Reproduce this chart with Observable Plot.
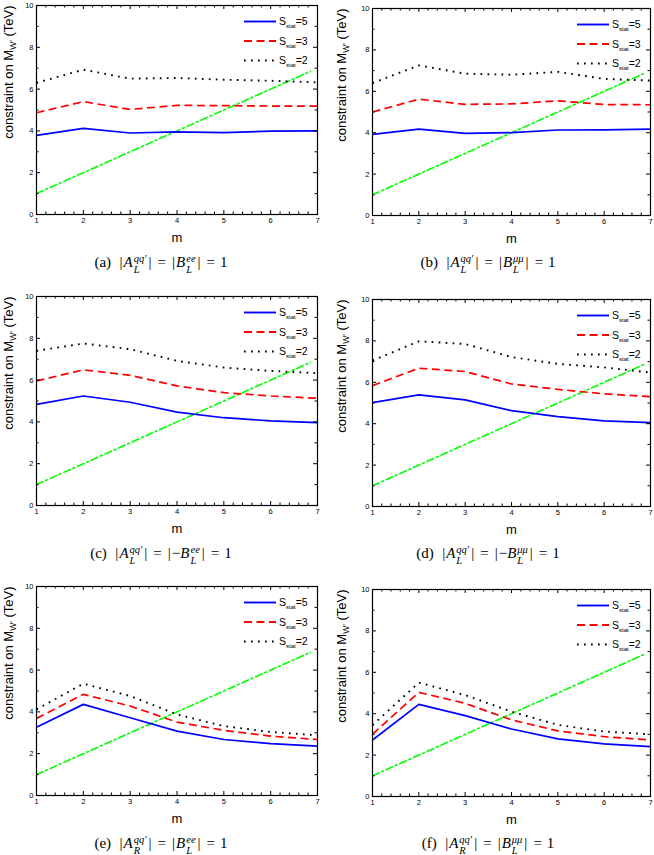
<!DOCTYPE html>
<html><head><meta charset="utf-8">
<script src="https://cdn.jsdelivr.net/npm/d3@7"></script>
<script src="https://cdn.jsdelivr.net/npm/@observablehq/plot@0.6"></script>
<style>
body{margin:0;background:#fff;width:654px;height:855px;overflow:hidden}
#grid{position:relative;width:654px;height:855px}
.cell{position:absolute;width:327px;height:290px}
.cap{position:absolute;left:0;width:322px;height:24px;line-height:24px;text-align:center;font-family:"Liberation Serif","DejaVu Serif",serif;font-size:15px;color:#000;white-space:nowrap}
.ss{display:inline-block;vertical-align:-0.6em;line-height:1.05;font-size:0.7em;font-style:italic;text-align:left;margin-left:1px;margin-right:1px}
.ss span{display:block}
.eq{margin:0 5px}
.bar{margin:0 1px}
svg{overflow:visible}
</style></head><body><div id="grid"></div>
<script>
// ---- data ----
const M = [1, 2, 3, 4, 5, 6, 7];
const GREEN_M = [1, 6.85];
const GREEN_V = [1, 6.85];
const A5 = [3.79, 4.12, 3.90, 3.95, 3.92, 3.99, 4.00];
const A3 = [4.87, 5.40, 5.03, 5.22, 5.21, 5.19, 5.19];
const A2 = [6.30, 6.93, 6.50, 6.53, 6.45, 6.40, 6.32];
const B5 = [3.92, 4.17, 3.97, 4.00, 4.13, 4.14, 4.17];
const B3 = [5.00, 5.62, 5.37, 5.39, 5.54, 5.36, 5.35];
const B2 = [6.40, 7.25, 6.85, 6.80, 6.94, 6.60, 6.52];
const C5 = [4.84, 5.24, 4.94, 4.47, 4.20, 4.05, 3.97];
const C3 = [5.96, 6.49, 6.23, 5.72, 5.40, 5.24, 5.13];
const C2 = [7.40, 7.75, 7.48, 6.92, 6.60, 6.44, 6.33];
const D5 = [5.02, 5.39, 5.15, 4.63, 4.34, 4.14, 4.05];
const D3 = [5.84, 6.68, 6.52, 5.92, 5.66, 5.44, 5.31];
const D2 = [7.05, 7.98, 7.85, 7.22, 6.89, 6.72, 6.47];
const E5 = [3.27, 4.36, 3.72, 3.08, 2.68, 2.48, 2.36];
const E3 = [3.69, 4.84, 4.28, 3.51, 3.12, 2.84, 2.68];
const E2 = [4.12, 5.35, 4.76, 3.88, 3.32, 3.04, 2.88];
const F5 = [2.73, 4.45, 3.91, 3.26, 2.78, 2.54, 2.41];
const F3 = [3.01, 5.03, 4.50, 3.70, 3.17, 2.89, 2.73];
const F2 = [3.45, 5.50, 4.90, 4.10, 3.46, 3.14, 3.00];

const S5 = [A5, B5, C5, D5, E5, F5];
const S3 = [A3, B3, C3, D3, E3, F3];
const S2 = [A2, B2, C2, D2, E2, F2];

const X_TICKS = [1, 2, 3, 4, 5, 6, 7];
const X_MINOR = [1.2,1.4,1.6,1.8,2.2,2.4,2.6,2.8,3.2,3.4,3.6,3.8,4.2,4.4,4.6,4.8,5.2,5.4,5.6,5.8,6.2,6.4,6.6,6.8];
const Y_TICKS = [0, 2, 4, 6, 8, 10];
const Y_MINOR = [1, 3, 5, 7, 9];

const LEGEND_LABELS = ["5", "3", "2"];
const CAP_LABEL = ["(a)", "(b)", "(c)", "(d)", "(e)", "(f)"];
const CAP_CHIRAL = ["L", "L", "L", "L", "R", "R"];
const CAP_SIGN = ["", "", "−", "−", "", ""];
const CAP_LEPTON = ["ee", "μμ", "ee", "μμ", "ee", "μμ"];
const YLABEL = "constraint on MW' (TeV)";
const XLABEL = "m";

// ---- styles ----
const STYLES = [
  {stroke: "#0000ff", strokeWidth: 1.7, dash: null, cap: "butt"},
  {stroke: "#ff0000", strokeWidth: 1.7, dash: "8,4.5", cap: "butt"},
  {stroke: "#000000", strokeWidth: 1.9, dash: "1.7,5.3", cap: "butt"}
];
const ROW_TOP = [0, 291, 581];
const COLS = [
  {x: 0, ml: 36, mr: 10, mt: 5, ih: 209, ydx: -28},
  {x: 327, ml: 45, mr: 4, mt: 8, ih: 207, ydx: -31}
];
const W = 327, H = 248;
const FONT = "'Liberation Sans', Arial, sans-serif";

const grid = document.getElementById("grid");

for (let i = 0; i < 6; i++) {
  const col = COLS[i % 2];
  const row = Math.floor(i / 2);
  const innerW = W - col.ml - col.mr;
  const innerH = col.ih;
  const mb = H - col.mt - innerH;
  const series = [S5[i], S3[i], S2[i]];
  const rows = series.map(arr => M.map((m, k) => ({m, v: arr[k]})));
  const greenRows = GREEN_M.map((m, k) => ({m, v: GREEN_V[k]}));

  const marks = [
    Plot.line(greenRows, {x: "m", y: "v", stroke: "#00ff00", strokeWidth: 1.6, strokeDasharray: "7,3,2,3"}),
    ...rows.map((r, s) => Plot.line(r, {x: "m", y: "v", stroke: STYLES[s].stroke, strokeWidth: STYLES[s].strokeWidth, strokeDasharray: STYLES[s].dash, strokeLinecap: STYLES[s].cap})),
    // inward ticks on all four sides
    Plot.tickX(X_TICKS, {x: d => d, stroke: "black", strokeWidth: 1, insetTop: innerH - 4}),
    Plot.tickX(X_TICKS, {x: d => d, stroke: "black", strokeWidth: 1, insetBottom: innerH - 4}),
    Plot.tickX(X_MINOR, {x: d => d, stroke: "black", strokeWidth: 1, insetTop: innerH - 2.5}),
    Plot.tickX(X_MINOR, {x: d => d, stroke: "black", strokeWidth: 1, insetBottom: innerH - 2.5}),
    Plot.tickY(Y_TICKS, {y: d => d, stroke: "black", strokeWidth: 1, insetRight: innerW - 4}),
    Plot.tickY(Y_TICKS, {y: d => d, stroke: "black", strokeWidth: 1, insetLeft: innerW - 4}),
    Plot.tickY(Y_MINOR, {y: d => d, stroke: "black", strokeWidth: 1, insetRight: innerW - 2.5}),
    Plot.tickY(Y_MINOR, {y: d => d, stroke: "black", strokeWidth: 1, insetLeft: innerW - 2.5}),
    Plot.axisX({ticks: X_TICKS, tickSize: 0, tickPadding: 3, fontSize: 7.5, label: null, tickFormat: d => d}),
    Plot.axisY({ticks: Y_TICKS, tickSize: 0, tickPadding: 3, fontSize: 7.5, label: null, tickFormat: d => d}),
    Plot.frame({stroke: "black", strokeWidth: 1.2}),
    Plot.text([XLABEL], {frameAnchor: "bottom", dy: 27, fontSize: 13, fill: "black", text: d => d}),
    Plot.text([YLABEL], {frameAnchor: "top-left", rotate: -90, textAnchor: "end", lineAnchor: "middle", dx: col.ydx, dy: 0, fontSize: 13, fill: "black", text: d => d})
  ];

  const svg = Plot.plot({
    width: W, height: H,
    marginLeft: col.ml, marginRight: col.mr, marginTop: col.mt, marginBottom: mb,
    x: {domain: [1, 7]},
    y: {domain: [0, 10]},
    style: {fontFamily: FONT, color: "black", background: "white", overflow: "visible"},
    marks
  });

  // y label subscript
  d3.select(svg).selectAll("text").filter(function () { return this.textContent === YLABEL; })
    .each(function () {
      const t = d3.select(this);
      t.text(null);
      t.append("tspan").text("constraint on M");
      t.append("tspan").attr("font-size", 8.5).attr("dy", 3).text("W'");
      t.append("tspan").attr("dy", -3).text(" (TeV)");
    });

  // legend
  const lg = d3.select(svg).append("g")
    .attr("text-anchor", "start")
    .attr("transform", `translate(${W - col.mr - 73},${col.mt + 16.5})`);
  LEGEND_LABELS.forEach((lab, s) => {
    const y = s * 19.5;
    lg.append("line").attr("x1", 0).attr("x2", 32).attr("y1", y).attr("y2", y)
      .attr("stroke", STYLES[s].stroke).attr("stroke-width", STYLES[s].strokeWidth + 0.2)
      .attr("stroke-dasharray", STYLES[s].dash);
    const tx = lg.append("text").attr("x", 35).attr("y", y + 3.5).attr("text-anchor", "start")
      .attr("font-family", FONT).attr("font-size", 10.5).attr("fill", "black");
    tx.append("tspan").text("S");
    tx.append("tspan").attr("font-size", 6).attr("dy", 3).text("stat");
    tx.append("tspan").attr("dy", -3).text("=" + lab);
  });

  const cell = document.createElement("div");
  cell.className = "cell";
  cell.style.left = col.x + "px";
  cell.style.top = ROW_TOP[row] + "px";
  cell.appendChild(svg);
  svg.style.position = "absolute";
  svg.style.left = "0px";
  svg.style.top = "0px";

  const cap = document.createElement("div");
  cap.className = "cap";
  cap.style.top = "250px";
  cap.innerHTML = `${CAP_LABEL[i]}&nbsp; <span class="bar">|</span><i>A</i><span class="ss"><span>qq′</span><span>${CAP_CHIRAL[i]}</span></span><span class="bar">|</span><span class="eq">=</span><span class="bar">|</span>${CAP_SIGN[i]}<i>B</i><span class="ss"><span>${CAP_LEPTON[i]}</span><span>L</span></span><span class="bar">|</span><span class="eq">=</span>1`;
  cell.appendChild(cap);
  grid.appendChild(cell);
}
</script></body></html>
